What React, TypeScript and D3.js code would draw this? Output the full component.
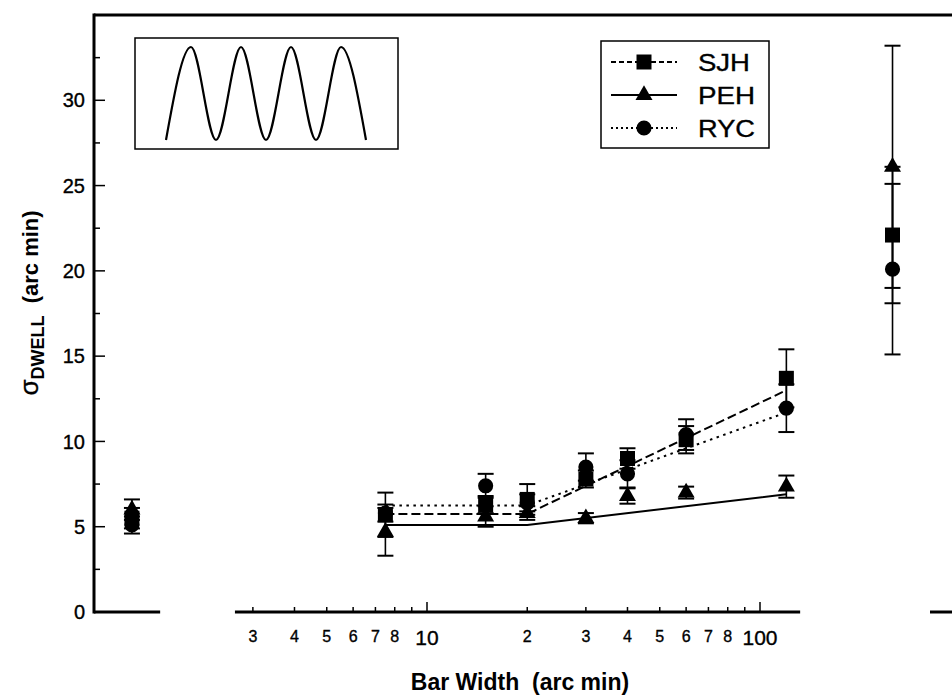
import React from "react";
import * as d3 from "d3";

const W = 952;
const H = 697;
const font = "Arial, 'Liberation Sans', Helvetica, sans-serif";

// bar width (arc min); 1.3 and 250 are the two stand-alone conditions at the ends of the broken axis
const barWidths = [1.3, 7.5, 15, 20, 30, 40, 60, 120, 250];
const sjhMean = [5.5, 5.7, 6.3, 6.6, 7.8, 9.0, 10.1, 13.7, 22.1];
const sjhErr = [0.6, 1.3, 0.5, 0.9, 0.5, 0.6, 0.8, 1.7, 4.0];
const pehMean = [6.0, 4.7, 5.6, 5.8, 5.5, 6.8, 7.0, 7.35, 26.1];
const pehErr = [0.6, 1.4, 0.6, 0.4, 0.3, 0.45, 0.35, 0.65, 7.1];
const rycMean = [5.1, 5.8, 7.4, 6.4, 8.5, 8.1, 10.4, 11.95, 20.1];
const rycErr = [0.5, 0.5, 0.7, 0.5, 0.8, 0.8, 0.9, 1.4, 5.0];

// model fits: flat up to 20, then straight in log bar width
const fitX = [7.5, 20, 120];
const sjhFit = [5.75, 5.75, 13.0];
const pehFit = [5.1, 5.1, 6.9];
const rycFit = [6.25, 6.25, 11.7];

const yMajor = [0, 5, 10, 15, 20, 25, 30];
const yMinor = [2.5, 7.5, 12.5, 17.5, 22.5, 27.5, 32.5];
const xMajor = [10, 100];
const xMinor = [3, 4, 5, 6, 7, 8, 9, 20, 30, 40, 50, 60, 70, 80, 90];
const xMinorLabels = ["3", "4", "5", "6", "7", "8", "", "2", "3", "4", "5", "6", "7", "8", ""];
// pieces of the broken x axis, in bar width units
const axisPieces = [[1, 1.58], [2.65, 132], [324, 380]];
// stimulus profile shown in the inset (troughs and peaks)
const insetProfile = [0, 1, 0, 1, 0, 1, 0, 1, 0];

const series = [
  { name: "SJH", mean: sjhMean, err: sjhErr, fit: sjhFit, symbol: d3.symbolSquare, size: 225, dash: "9,4", legendDash: "5,3", textW: 52 },
  { name: "PEH", mean: pehMean, err: pehErr, fit: pehFit, symbol: d3.symbolTriangle, size: 125, dash: "none", legendDash: "none", textW: 57 },
  { name: "RYC", mean: rycMean, err: rycErr, fit: rycFit, symbol: d3.symbolCircle, size: 180, dash: "2.5,4.5", legendDash: "2,3", textW: 57 },
];

// slight outline so the thin digits read as heavy as the scanned original
const ink = { stroke: "#000", strokeWidth: 0.35 };

export default function App() {
  const x = d3.scaleLog().domain([10, 100]).range([427, 760]);
  const y = d3.scaleLinear().domain([0, 35]).range([612, 15]);
  const y0 = y(0);
  const left = x(1);

  const fitLine = d3
    .line<number>()
    .x((_, i) => x(fitX[i]))
    .y((d) => y(d));

  // inset
  const ix = d3.scaleLinear().domain([0, insetProfile.length - 1]).range([166, 366]);
  const iy = d3.scaleLinear().domain([0, 1]).range([140, 47]);
  const insetPath = d3
    .line<number>()
    .x((_, i) => ix(i))
    .y((d) => iy(d))
    .curve(d3.curveMonotoneX)(insetProfile);

  const legendRows = [62, 95, 128];

  return (
    <svg width={W} height={H} style={{ position: "absolute", left: 0, top: 0, background: "#fff" }} fontFamily={font}>
      <rect width={W} height={H} fill="#fff" />
      {/* frame */}
      <line x1={left} x2={W} y1={y(35)} y2={y(35)} stroke="#000" strokeWidth={3} />
      <line x1={left} x2={left} y1={y(35) - 1.5} y2={y0 + 1.5} stroke="#000" strokeWidth={3} />
      {axisPieces.map((p, i) => (
        <line key={i} x1={x(p[0])} x2={x(p[1])} y1={y0} y2={y0} stroke="#000" strokeWidth={3} />
      ))}

      {/* y ticks */}
      {yMajor.map((t) => (
        <g key={"ym" + t}>
          <line x1={left} x2={left + 11} y1={y(t)} y2={y(t)} stroke="#000" strokeWidth={1.5} />
          <text x={85} y={y(t)} dy="0.36em" textAnchor="end" fontSize={20} {...ink}>
            {t}
          </text>
        </g>
      ))}
      {yMinor.map((t) => (
        <line key={"yn" + t} x1={left} x2={left + 6} y1={y(t)} y2={y(t)} stroke="#000" strokeWidth={1.5} />
      ))}

      {/* x ticks */}
      {xMajor.map((t) => (
        <g key={"xm" + t}>
          <line x1={x(t)} x2={x(t)} y1={y0} y2={y0 - 10} stroke="#000" strokeWidth={1.5} />
          <text x={x(t)} y={y0 + 33} textAnchor="middle" fontSize={21} {...ink}>
            {t}
          </text>
        </g>
      ))}
      {xMinor.map((t, i) => (
        <g key={"xn" + t}>
          <line x1={x(t)} x2={x(t)} y1={y0} y2={y0 - 5} stroke="#000" strokeWidth={1.5} />
          <text x={x(t)} y={y0 + 30} textAnchor="middle" fontSize={16} {...ink}>
            {xMinorLabels[i]}
          </text>
        </g>
      ))}

      {/* axis titles */}
      <text x={520} y={690} textAnchor="middle" fontSize={23} fontWeight="bold">
        Bar Width{"\u00a0\u00a0"}(arc min)
      </text>
      <text transform={`translate(38, 303) rotate(-90)`} textAnchor="middle" fontSize={22} fontWeight="bold">
        <tspan fontWeight="normal" fontSize={26} {...ink}>σ</tspan>
        <tspan fontSize={18} dy={6}>DWELL</tspan>
        <tspan dy={-6}>{"\u00a0\u00a0"}(arc min)</tspan>
      </text>

      {/* fits */}
      {series.map((s) => (
        <path
          key={"fit" + s.name}
          d={fitLine(s.fit) || ""}
          fill="none"
          stroke="#000"
          strokeWidth={2}
          strokeDasharray={s.dash}
        />
      ))}

      {/* error bars */}
      {series.map((s) =>
        barWidths.map((b, i) => {
          const cx = x(b);
          const top = y(s.mean[i] + s.err[i]);
          const bot = y(s.mean[i] - s.err[i]);
          return (
            <g key={"e" + s.name + i} stroke="#000">
              <line x1={cx} x2={cx} y1={top} y2={bot} strokeWidth={1.6} />
              <line x1={cx - 8} x2={cx + 8} y1={top} y2={top} strokeWidth={2} />
              <line x1={cx - 8} x2={cx + 8} y1={bot} y2={bot} strokeWidth={2} />
            </g>
          );
        })
      )}

      {/* markers */}
      {[series[2], series[0], series[1]].map((s) =>
        barWidths.map((b, i) => (
          <path
            key={"m" + s.name + i}
            d={d3.symbol().type(s.symbol).size(s.size)() || ""}
            transform={`translate(${x(b)},${y(s.mean[i])})`}
            fill="#000"
          />
        ))
      )}

      {/* inset */}
      <rect x={135} y={38} width={263} height={111} fill="#fff" stroke="#000" strokeWidth={1.5} />
      <path d={insetPath || ""} fill="none" stroke="#000" strokeWidth={2.2} />

      {/* legend */}
      <rect x={601} y={41} width={168} height={107} fill="#fff" stroke="#000" strokeWidth={1.5} />
      {series.map((s, i) => (
        <g key={"lg" + s.name}>
          <line
            x1={611}
            x2={677}
            y1={legendRows[i]}
            y2={legendRows[i]}
            stroke="#000"
            strokeWidth={2}
            strokeDasharray={s.legendDash}
          />
          <path
            d={d3.symbol().type(s.symbol).size(s.size)() || ""}
            transform={`translate(644,${legendRows[i]})`}
            fill="#000"
          />
          <text
            x={698}
            y={legendRows[i]}
            dy="0.36em"
            fontSize={24}
            textLength={s.textW}
            lengthAdjust="spacingAndGlyphs"
            {...ink}
          >
            {s.name}
          </text>
        </g>
      ))}
    </svg>
  );
}
